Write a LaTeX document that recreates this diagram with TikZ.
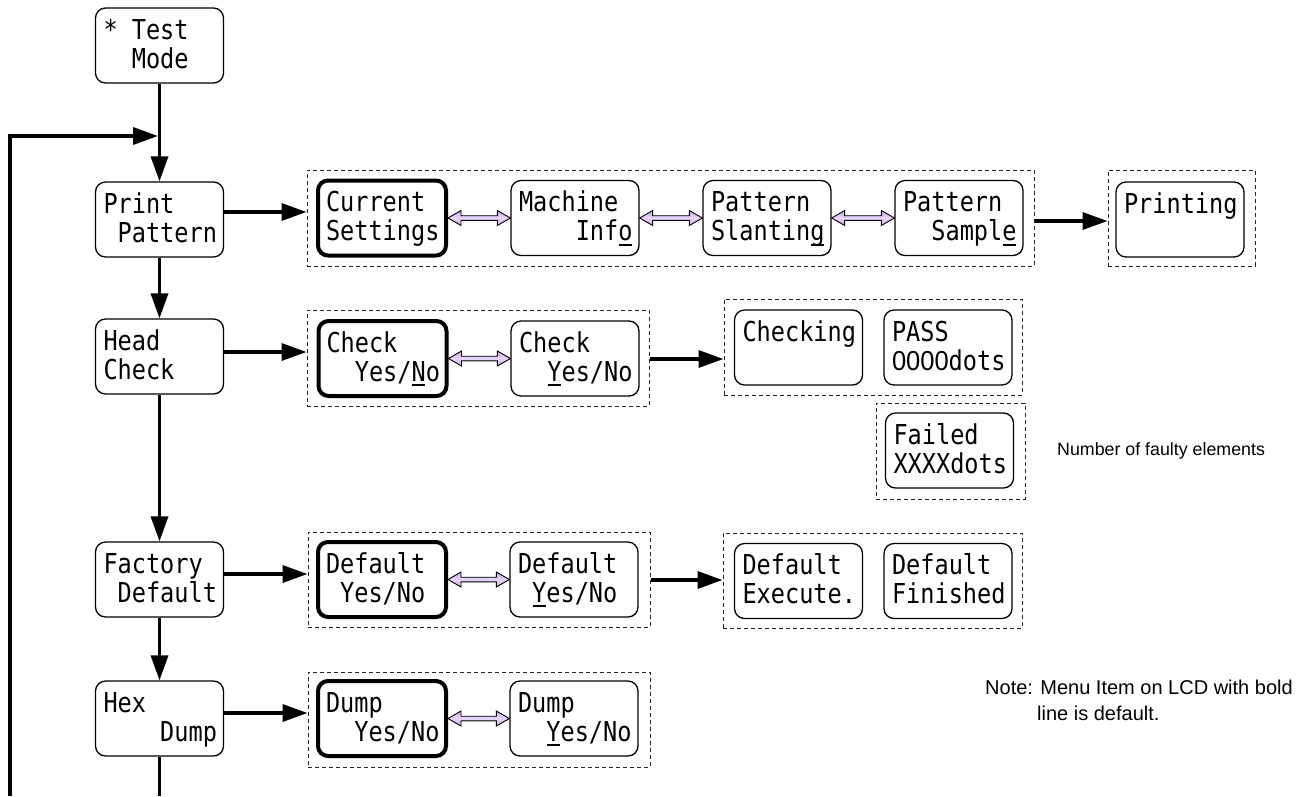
\documentclass[tikz,border=0pt]{standalone}
\usepackage{fontspec}
\setmainfont{Liberation Sans}
\newfontfamily\lcdf[FakeStretch=0.86]{DejaVu Sans Mono}
\newfontfamily\zf[FakeStretch=0.93]{Liberation Sans}
\usetikzlibrary{arrows.meta,calc}
\definecolor{lav}{HTML}{C9A3F5}
\newcommand\lsp{\hphantom{0}}
\newcommand\ulc[1]{\setbox0\hbox{#1}\rlap{\hbox to\wd0{\hfil\rule[-5pt]{0.9\wd0}{1.8pt}\hfil}}\box0}
\newcommand\lcd[2]{\parbox[c][75pt][t]{128pt}{\lcdf\fontsize{27.4}{29}\selectfont\hspace*{8pt}\rule{0pt}{31pt}#1\par\hspace*{8pt}#2}}
\newcommand\dbl[2]{\path[dblarr] let \p1=(#1.east), \p2=(#2.west) in
  (\x1,\y1) -- (\x1+13pt,\y1+7.5pt) -- (\x1+13pt,\y1+2.3pt) -- (\x2-13pt,\y1+2.3pt) -- (\x2-13pt,\y1+7.5pt)
  -- (\x2,\y1) -- (\x2-13pt,\y1-7.5pt) -- (\x2-13pt,\y1-2.3pt) -- (\x1+13pt,\y1-2.3pt) -- (\x1+13pt,\y1-7.5pt) -- cycle;}
\begin{document}
\begin{tikzpicture}[x=1pt,y=-1pt,
  lcdbox/.style={draw, rounded corners=10pt, line width=1.3pt, inner sep=0pt, fill=white},
  thick box/.style={lcdbox, line width=4pt},
  grp/.style={draw=black!85, dash pattern=on 4pt off 3pt, line width=1pt, inner sep=0pt, rectangle},
  arr/.style={line width=3.5pt, -{Triangle[length=25pt,width=17pt]}},
  ln/.style={line width=3.5pt},
  dblarr/.style={draw=black, line width=0.9pt, top color=lav, bottom color=lav, middle color=lav!45},
  plain/.style={inner sep=0pt, anchor=base west}]
\useasboundingbox (0,0) rectangle (1297,796);

% group boxes
\node[grp, minimum width=727pt, minimum height=96pt] (g1) at (670.5,218) {};
\node[grp, minimum width=147pt, minimum height=96pt] (gP) at (1181.5,218) {};
\node[grp, minimum width=342pt, minimum height=96pt] (g2) at (478,358) {};
\node[grp, minimum width=298pt, minimum height=96pt] (g3) at (873,347) {};
\node[grp, minimum width=149pt, minimum height=96pt] (gF) at (950.5,451) {};
\node[grp, minimum width=342pt, minimum height=95pt] (g4) at (479,579.5) {};
\node[grp, minimum width=299pt, minimum height=95pt] (g5) at (872.5,580.5) {};
\node[grp, minimum width=342pt, minimum height=95pt] (g6) at (479,719.5) {};

% main column
\node[lcdbox] (tm) at (159.5,45.5) {\lcd{*\lsp Test}{\lsp\lsp Mode}};
\node[lcdbox] (pp) at (159.5,219.5) {\lcd{Print}{\lsp Pattern}};
\node[lcdbox] (hc) at (159.5,356.5) {\lcd{Head}{Check}};
\node[lcdbox] (fd) at (159.5,579.5) {\lcd{Factory}{\lsp Default}};
\node[lcdbox] (hd) at (159.5,718.5) {\lcd{Hex}{\lsp\lsp\lsp\lsp Dump}};

% print pattern row
\node[thick box] (cs) at (382,218) {\lcd{Current}{Settings}};
\node[lcdbox] (mi) at (575,218) {\lcd{Machine}{\lsp\lsp\lsp\lsp Inf\ulc{o}}};
\node[lcdbox] (ps) at (767,218) {\lcd{Pattern}{Slantin\ulc{g}}};
\node[lcdbox] (sa) at (959,218) {\lcd{Pattern}{\lsp\lsp Sampl\ulc{e}}};
\node[lcdbox] (pr) at (1180,219.5) {\lcd{Printing}{}};

% head check row
\node[thick box] (ck1) at (382.5,358.5) {\lcd{Check}{\lsp\lsp Yes/\ulc{N}o}};
\node[lcdbox] (ck2) at (575,358.5) {\lcd{Check}{\lsp\lsp\ulc{Y}es/No}};
\node[lcdbox] (chk) at (798.5,347.5) {\lcd{Checking}{}};
\node[lcdbox] (pass) at (948,347.5) {\lcd{PASS}{{\zf 0000}dots}};
\node[lcdbox] (fail) at (949.5,450.5) {\lcd{Failed}{XXXXdots}};

% factory default row
\node[thick box] (df1) at (382,579.5) {\lcd{Default}{\lsp Yes/No}};
\node[lcdbox] (df2) at (574,579.5) {\lcd{Default}{\lsp\ulc{Y}es/No}};
\node[lcdbox] (ex) at (798.5,581) {\lcd{Default}{Execute.}};
\node[lcdbox] (fin) at (948,581) {\lcd{Default}{Finished}};

% hex dump row
\node[thick box] (du1) at (382,718.5) {\lcd{Dump}{\lsp\lsp Yes/No}};
\node[lcdbox] (du2) at (574,718.5) {\lcd{Dump}{\lsp\lsp\ulc{Y}es/No}};

% texts
\node[plain, font=\fontsize{17.8}{20}\selectfont] (nf) at (1057,455) {Number of faulty elements};
\node[plain, font=\fontsize{20}{22}\selectfont] (n1) at (985,694) {Note: Menu Item on LCD with bold};
\node[plain, font=\fontsize{20}{22}\selectfont] (n2) at (1037,720) {line is default.};

% coordinates
\coordinate (bot) at (159.5,796);
\coordinate (lbot) at (10,796);
\coordinate (lin) at (158,136);
\coordinate (a1) at ($(pp.east)+(0,-7.5)$);
\coordinate (a2) at ($(g1.east)+(0,3)$);
\coordinate (a3) at ($(hc.east)+(0,-4.5)$);
\coordinate (a4) at ($(g2.east)+(0,1)$);
\coordinate (a5) at ($(fd.east)+(0,-5.5)$);
\coordinate (a6) at ($(g4.east)+(0,0.5)$);
\coordinate (a7) at ($(hd.east)+(0,-5.5)$);

% main connectors
\draw[arr] (tm) -- (pp);
\draw[arr] (pp) -- (hc);
\draw[arr] (hc) -- (fd);
\draw[arr] (fd) -- (hd);
\draw[ln] (hd) -- (bot);
\draw[arr] (lbot) |- (lin);
\draw[arr] (a1) -- (a1 -| g1.west);
\draw[arr] (a2) -- (a2 -| gP.west);
\draw[arr] (a3) -- (a3 -| g2.west);
\draw[arr] (a4) -- (a4 -| g3.west);
\draw[arr] (a5) -- (a5 -| g4.west);
\draw[arr] (a6) -- (a6 -| g5.west);
\draw[arr] (a7) -- (a7 -| g6.west);

% double arrows
\dbl{cs}{mi}
\dbl{mi}{ps}
\dbl{ps}{sa}
\dbl{ck1}{ck2}
\dbl{df1}{df2}
\dbl{du1}{du2}
\end{tikzpicture}
\end{document}
